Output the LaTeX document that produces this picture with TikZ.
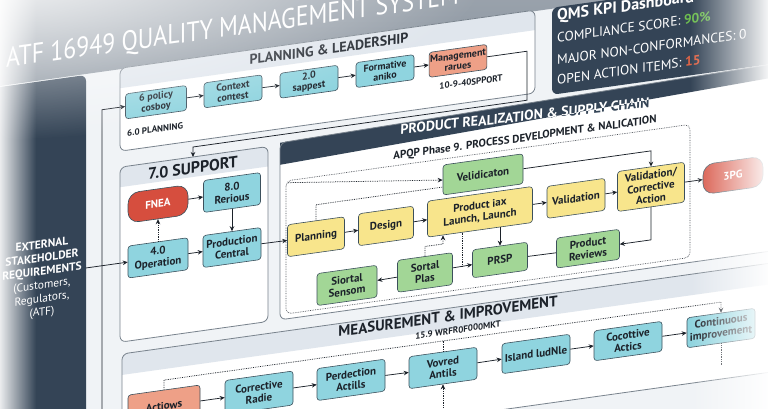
\documentclass[tikz,border=0pt]{standalone}
\usepackage{fontspec}
\setmainfont{PT Sans}
\usetikzlibrary{arrows.meta,fadings,positioning}

\definecolor{qnavy}{RGB}{52,68,86}
\definecolor{qteal}{RGB}{143,212,223}
\definecolor{qyellow}{RGB}{248,229,140}
\definecolor{qgreen}{RGB}{162,214,150}
\definecolor{qsalmon}{RGB}{238,160,135}
\definecolor{qred}{RGB}{214,78,62}
\definecolor{boxline}{RGB}{60,80,92}
\definecolor{hband}{RGB}{224,230,237}
\definecolor{boardbg}{RGB}{240,243,246}
\definecolor{titletop}{RGB}{205,210,216}
\definecolor{titlebot}{RGB}{135,145,156}
\definecolor{frameline}{RGB}{120,130,140}
\definecolor{ink}{RGB}{28,34,42}
\definecolor{kgreen}{RGB}{110,190,80}
\definecolor{kred}{RGB}{224,100,70}

\tikzfading[name=tlfade, inner color=transparent!0, outer color=transparent!100]

\tikzset{
  box/.style={draw=boxline, line width=0.6pt, rounded corners=3pt, align=center, text=ink,
    font=\bfseries\fontsize{11}{12}\selectfont, inner sep=1pt, minimum width=58pt, minimum height=32pt},
  tbox/.style={box, fill=qteal},
  ybox/.style={box, fill=qyellow},
  gbox/.style={box, fill=qgreen},
  sbox/.style={box, fill=qsalmon},
  pill/.style={box, fill=qred, text=white, rounded corners=11pt, minimum width=60pt, minimum height=30pt},
  plbox/.style={font=\bfseries\fontsize{10}{10.5}\selectfont, minimum width=58pt, minimum height=25pt},
  sect/.style={draw=frameline, line width=0.8pt, rounded corners=6pt},
  hdr/.style={text=ink, inner sep=0pt, font=\bfseries\fontsize{14}{16}\selectfont},
  lbl/.style={text=ink, inner sep=0pt, font=\bfseries\fontsize{9}{10}\selectfont},
  kpi/.style={text=white, inner sep=0pt, anchor=west, font=\fontsize{13.5}{15}\selectfont},
  arr/.style={-{Stealth[length=5pt,width=4.5pt]}, line width=0.75pt, draw=ink},
  darr/.style={arr, densely dotted},
  ln/.style={line width=0.75pt, draw=ink},
  dln/.style={ln, densely dotted}
}

\begin{document}
\begin{tikzpicture}[x=1pt,y=-1pt]
\useasboundingbox (0,0) rectangle (768,408);
\begin{scope}[yslant=0.14, transform shape]
% board and title band
\fill[boardbg] (-20,-150) rectangle (800,560);
\shade[top color=titletop, bottom color=titlebot] (-20,-150) rectangle (800,86);
\node[anchor=west, text=white, inner sep=0pt, font=\fontsize{28}{32}\selectfont] (ttl) at (6,61)
  {\scalebox{0.85}[1]{ATF 16949 QUALITY MANAGEMENT SYSTEM}};

% stakeholder panel
\fill[qnavy, rounded corners=6pt] (-20,87) rectangle (86,560);
\node[text=white, align=center, inner sep=0pt, font=\fontsize{11.5}{13.5}\selectfont] (ext) at (42,285)
  {\textbf{EXTERNAL}\\\textbf{STAKEHOLDER}\\\textbf{REQUIREMENTS}\\(Customers,\\Regulators,\\(ATF)};
\coordinate (pe) at (86,280);
\coordinate (lb) at (102,470);

% planning & leadership
\fill[white, rounded corners=6pt] (120,85) rectangle (535,168);
\begin{scope}
\clip[rounded corners=6pt] (120,85) rectangle (535,168);
\fill[hband] (120,85) rectangle (535,105);
\end{scope}
\draw[sect] (120,85) rectangle (535,168);
\node[hdr] (plt) at (329,95) {PLANNING \& LEADERSHIP};
\node[tbox, plbox, minimum width=61pt] (pol) at (156,124) {6 policy\\cosboy};
\node[tbox, plbox] (ctx) at (233,124) {Context\\contest};
\node[tbox, plbox] (sap) at (309,125) {2.0\\sappest};
\node[tbox, plbox] (frm) at (385,125) {Formative\\aniko};
\node[sbox, plbox, minimum width=56pt] (mgt) at (458,125) {Management\\rarues};
\node[lbl, anchor=west] (plab) at (127,151) {6.0 PLANNING};
\node[lbl] (mlab) at (471,148) {10-9-40SPPORT};
\draw[arr] (pol) -- (ctx);
\draw[arr] (ctx) -- (sap);
\draw[arr] (sap) -- (frm);
\draw[arr] (frm) -- (mgt);

% KPI dashboard
\fill[qnavy, rounded corners=6pt] (552,85) rectangle (820,172);
\node[kpi, font=\bfseries\fontsize{16}{18}\selectfont] (kt) at (557,95) {QMS KPI Dashboard};
\node[kpi] (k1) at (557,116) {COMPLIANCE SCORE: \textcolor{kgreen}{\bfseries 90\%}};
\node[kpi] (k2) at (557,138) {MAJOR NON-CONFORMANCES: 0};
\node[kpi] (k3) at (557,158) {OPEN ACTION ITEMS: \textcolor{kred}{\bfseries 15}};

% 7.0 support
\fill[white, rounded corners=6pt] (120,184) rectangle (268,359);
\begin{scope}
\clip[rounded corners=6pt] (120,184) rectangle (268,359);
\fill[hband] (120,184) rectangle (268,204);
\end{scope}
\draw[sect] (120,184) rectangle (268,359);
\node[hdr, font=\bfseries\fontsize{16}{18}\selectfont] (sut) at (193,195) {7.0 SUPPORT};
\node[pill] (fne) at (158,226) {FNEA};
\node[tbox, minimum width=57pt] (rer) at (232,225) {8.0\\Rerious};
\node[tbox, minimum width=60pt] (op) at (158,280) {4.0\\Operation};
\node[tbox, minimum width=58pt] (prc) at (232,280) {Production\\Central};
\draw[arr] (fne) -- (rer);
\draw[arr] (rer) -- (prc);
\draw[arr] (op) -- (prc);
\draw[darr] (op) -- (fne);
\draw[arr] (pe) -- (op);
\draw[arr] (lb) |- (pol.west);
\coordinate (lpc) at (527,174);
\coordinate (spn) at (193,184);
\draw[arr] (mgt.east) -| (lpc) -- (lpc -| spn) -- (spn);

% product realization
\fill[white, rounded corners=6pt] (280,182) -- (820,171.3) -- (820,359) -- (280,359) -- cycle;
\fill[qnavy] (280,182) -- (820,171.3) -- (820,184) -- (280,204) -- cycle;
\draw[sect] (280,182) -- (820,171.3) -- (820,359) -- (280,359) -- cycle;
\node[hdr, text=qnavy, rotate=-1.8] (prt) at (525,189.5) {PRODUCT REALIZATION \& SUPPLY CHAIN};
\begin{scope}
\clip (280,182) -- (820,171.3) -- (820,184) -- (280,204) -- cycle;
\node[hdr, text=white, rotate=-1.8] (prw) at (525,189.5) {PRODUCT REALIZATION \& SUPPLY CHAIN};
\end{scope}
\draw[draw=ink!80, line width=0.7pt, densely dotted, rounded corners=5pt] (286,221) rectangle (690,354);
\node[lbl, font=\bfseries\fontsize{11}{12}\selectfont] (apq) at (525,212) {APQP Phase 9. PROCESS DEVELOPMENT \& NALICATION};
\coordinate (apnw) at (288,223);
\node[ybox, minimum width=57pt] (pln) at (316,281) {Planning};
\node[ybox, minimum width=55pt] (dsg) at (386,280) {Design};
\node[ybox, minimum width=105pt, minimum height=36pt] (pix) at (480,279) {Product iax\\Launch, Launch};
\node[ybox] (val) at (576,279) {Validation};
\node[ybox, minimum width=67pt, minimum height=40pt] (vca) at (651,278) {Validation/\\Corrective\\Action};
\node[pill] (tpg) at (733,278) {3PG};
\node[gbox, minimum width=80pt, minimum height=30pt] (vel) at (483,242) {Velidicaton};
\node[gbox, minimum width=55pt, minimum height=28pt] (prs) at (500,330) {PRSP};
\node[gbox, minimum width=63pt, minimum height=30pt] (prv) at (588,331) {Product\\Reviews};
\node[gbox, minimum width=55pt] (spl) at (425,332) {Sortal\\Plas};
\node[gbox, minimum width=60pt] (sse) at (347,334) {Siortal\\Sensom};
\draw[arr] (prc) -- (pln);
\draw[arr] (pln) -- (dsg);
\draw[arr] (dsg) -- (pix);
\draw[arr] (pix) -- (val);
\draw[arr] (val) -- (vca);
\draw[arr] (vca) -- (tpg);
\draw[arr] (vel.east) -| (vca.north);
\draw[arr] (vca.south) |- (prv.east);
\draw[arr] (pix.south -| prs.north) -- (prs.north);
\draw[ln] (prs) -- (prv);
\draw[arr] (spl) -- (prs);
\draw[arr] (spl) -- (sse);
\draw[darr] (apnw) -- (vel.west);
\draw[dln] (pln.north) |- ([yshift=-7pt]vel.west);
\coordinate (sk) at (443,306);
\draw[darr] (spl.north) |- (sk) -- (sk |- pix.south);
\coordinate (dk) at (462,331);
\draw[dln] (dk |- pix.south) -- (dk);

% measurement & improvement
\fill[white, rounded corners=6pt] (122,371) rectangle (820,480);
\begin{scope}
\clip[rounded corners=6pt] (122,371) rectangle (820,480);
\fill[hband] (122,371) rectangle (820,392);
\end{scope}
\draw[sect] (122,371) rectangle (820,480);
\node[hdr, font=\bfseries\fontsize{15}{16}\selectfont] (mst) at (448,379) {MEASUREMENT \& IMPROVEMENT};
\node[lbl] (mlb) at (458,394) {15.9 WRFR0F000MKT};
\node[sbox, minimum width=72pt] (act) at (164,429) {Actiows};
\node[tbox, minimum width=68pt, minimum height=34pt] (crr) at (259,429) {Corrective\\Radie};
\node[tbox, minimum width=68pt] (prd) at (351,429) {Perdection\\Actills};
\node[tbox, minimum width=68pt] (vov) at (443,430) {Vovred\\Antils};
\node[tbox, minimum width=68pt, minimum height=30pt] (isl) at (536,429) {Island ludNle};
\node[tbox, minimum width=68pt, minimum height=30pt] (coc) at (628,429) {Cocottive\\Actics};
\node[tbox, minimum width=68pt, minimum height=30pt] (cnt) at (721,429) {Continuous\\improvement};
\draw[arr] (act) -- (crr);
\draw[arr] (crr) -- (prd);
\draw[arr] (prd) -- (vov);
\draw[arr] (vov) -- (isl);
\draw[arr] (isl) -- (coc);
\draw[arr] (coc) -- (cnt);
\coordinate (mln) at (300,403);
\draw[darr] (act.north) |- (mln) -| (cnt.north);
\draw[dln] (vov.north) -- (vov.north |- mln);
\coordinate (vb) at (443,475);
\draw[darr] (vb) -- (vov.south);
\coordinate (cb) at (721,466);
\draw[dln] (cnt.south) -- (cb);
\end{scope}

% fades at the edges
\fill[white, path fading=west] (690,-5) rectangle (772,412);
\fill[white, path fading=east] (-4,-5) rectangle (36,412);
\fill[white, path fading=tlfade] (-30,-40) ellipse [x radius=520pt, y radius=180pt];
\end{tikzpicture}
\end{document}
